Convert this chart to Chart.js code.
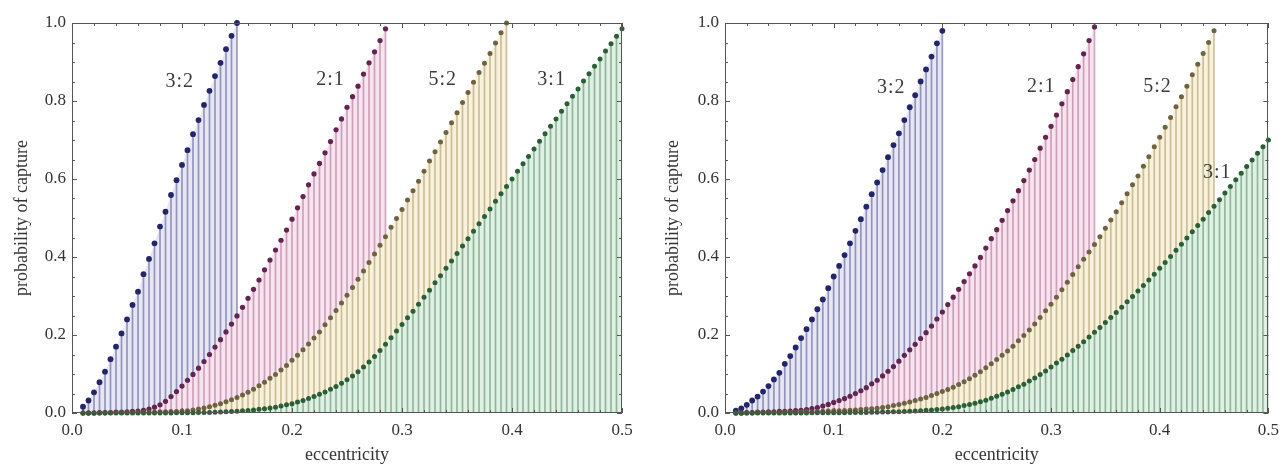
<!DOCTYPE html>
<html><head><meta charset="utf-8">
<script src="https://cdn.jsdelivr.net/npm/chart.js@4.4.1/dist/chart.umd.min.js"></script>
<style>
html,body{margin:0;padding:0;background:#fff;}
#wrap{position:relative;width:1286px;height:464px;overflow:hidden;}
.panel{position:absolute;top:0;width:643px;height:464px;}
</style></head><body>
<div id="wrap">
<div class="panel" style="left:0"><canvas id="c1" width="643" height="464"></canvas></div>
<div class="panel" style="left:643px"><canvas id="c2" width="643" height="464"></canvas></div>
</div>
<script>
// ---------- data ----------
const ecc = [0.010,0.015,0.020,0.025,0.030,0.035,0.040,0.045,0.050,0.055,0.060,0.065,0.070,0.075,0.080,0.085,0.090,0.095,0.100,0.105,0.110,0.115,0.120,0.125,0.130,0.135,0.140,0.145,0.150,0.155,0.160,0.165,0.170,0.175,0.180,0.185,0.190,0.195,0.200,0.205,0.210,0.215,0.220,0.225,0.230,0.235,0.240,0.245,0.250,0.255,0.260,0.265,0.270,0.275,0.280,0.285,0.290,0.295,0.300,0.305,0.310,0.315,0.320,0.325,0.330,0.335,0.340,0.345,0.350,0.355,0.360,0.365,0.370,0.375,0.380,0.385,0.390,0.395,0.400,0.405,0.410,0.415,0.420,0.425,0.430,0.435,0.440,0.445,0.450,0.455,0.460,0.465,0.470,0.475,0.480,0.485,0.490,0.495,0.500];

const resonances = ['3:2','2:1','5:2','3:1'];

// left panel
const left32 = [0.016,0.032,0.053,0.079,0.106,0.138,0.170,0.204,0.240,0.277,0.311,0.356,0.395,0.435,0.478,0.516,0.559,0.597,0.636,0.674,0.715,0.751,0.790,0.826,0.864,0.898,0.933,0.967,1.000];
const left21 = [0.000,0.000,0.000,0.001,0.001,0.001,0.002,0.002,0.003,0.004,0.005,0.007,0.010,0.015,0.021,0.030,0.042,0.055,0.069,0.084,0.099,0.115,0.132,0.150,0.169,0.188,0.208,0.228,0.249,0.271,0.294,0.317,0.341,0.367,0.392,0.418,0.443,0.469,0.497,0.526,0.555,0.585,0.613,0.640,0.667,0.696,0.726,0.754,0.784,0.811,0.838,0.869,0.898,0.926,0.955,0.985];
const left52 = [0.000,0.000,0.000,0.000,0.000,0.001,0.001,0.001,0.001,0.001,0.001,0.002,0.002,0.002,0.003,0.003,0.004,0.004,0.005,0.006,0.008,0.010,0.013,0.016,0.020,0.024,0.029,0.034,0.040,0.046,0.053,0.061,0.070,0.079,0.089,0.099,0.110,0.122,0.135,0.148,0.162,0.177,0.192,0.208,0.226,0.244,0.263,0.282,0.302,0.322,0.343,0.364,0.386,0.408,0.430,0.452,0.476,0.499,0.522,0.546,0.570,0.594,0.620,0.646,0.670,0.695,0.719,0.744,0.770,0.796,0.822,0.848,0.873,0.897,0.922,0.949,0.975,1.000];
const left31 = [0,0,0,0,0,0,0,0,0,0.0001,0.0001,0.0001,0.0002,0.0002,0.0002,0.0003,0.0003,0.0004,0.0005,0.0006,0.0008,0.001,0.0013,0.0016,0.002,0.0025,0.003,0.0037,0.0045,0.0055,0.0065,0.008,0.0095,0.011,0.013,0.015,0.018,0.021,0.024,0.028,0.032,0.037,0.042,0.048,0.054,0.061,0.068,0.076,0.085,0.095,0.106,0.118,0.131,0.145,0.160,0.176,0.193,0.210,0.227,0.244,0.261,0.279,0.297,0.315,0.334,0.352,0.371,0.390,0.409,0.428,0.447,0.466,0.485,0.504,0.523,0.543,0.562,0.581,0.600,0.620,0.639,0.658,0.677,0.697,0.716,0.735,0.754,0.774,0.793,0.812,0.831,0.851,0.870,0.889,0.908,0.928,0.947,0.966,0.985];

// right panel
const right32 = [0.006,0.012,0.021,0.032,0.042,0.055,0.069,0.086,0.103,0.126,0.146,0.168,0.192,0.215,0.240,0.266,0.291,0.320,0.350,0.377,0.405,0.435,0.467,0.497,0.529,0.561,0.591,0.623,0.656,0.687,0.717,0.751,0.784,0.815,0.850,0.881,0.914,0.948,0.980];
const right21 = [0.000,0.000,0.001,0.001,0.002,0.002,0.003,0.003,0.004,0.004,0.005,0.006,0.007,0.009,0.011,0.014,0.018,0.022,0.027,0.032,0.037,0.043,0.050,0.057,0.065,0.075,0.084,0.095,0.107,0.119,0.133,0.148,0.162,0.176,0.191,0.206,0.223,0.241,0.259,0.278,0.297,0.317,0.337,0.357,0.377,0.399,0.423,0.447,0.470,0.494,0.519,0.544,0.570,0.596,0.623,0.650,0.679,0.707,0.735,0.764,0.793,0.824,0.855,0.888,0.921,0.955,0.990];
const right52 = [0.000,0.000,0.000,0.000,0.001,0.001,0.001,0.001,0.001,0.002,0.002,0.002,0.0025,0.003,0.0035,0.004,0.0045,0.005,0.0055,0.006,0.0065,0.007,0.008,0.009,0.010,0.011,0.012,0.014,0.016,0.019,0.022,0.025,0.028,0.032,0.036,0.040,0.045,0.050,0.055,0.060,0.066,0.073,0.080,0.088,0.097,0.106,0.116,0.126,0.137,0.148,0.159,0.171,0.185,0.199,0.213,0.228,0.245,0.262,0.279,0.297,0.316,0.335,0.355,0.375,0.394,0.413,0.432,0.452,0.474,0.495,0.516,0.539,0.562,0.585,0.608,0.633,0.657,0.683,0.707,0.733,0.758,0.785,0.811,0.838,0.867,0.894,0.922,0.950,0.980];
const right31 = [0,0,0,0,0,0.0001,0.0001,0.0001,0.0001,0.0002,0.0002,0.0002,0.0003,0.0003,0.0004,0.0004,0.0005,0.0006,0.0007,0.0008,0.0009,0.001,0.0012,0.0014,0.0016,0.0018,0.0021,0.0024,0.0027,0.003,0.0035,0.004,0.0045,0.005,0.006,0.007,0.008,0.009,0.010,0.012,0.014,0.016,0.019,0.022,0.025,0.029,0.033,0.038,0.043,0.048,0.054,0.060,0.067,0.074,0.082,0.090,0.099,0.108,0.118,0.128,0.138,0.149,0.160,0.171,0.183,0.195,0.207,0.219,0.232,0.245,0.258,0.271,0.285,0.299,0.313,0.327,0.341,0.356,0.371,0.386,0.401,0.417,0.433,0.449,0.465,0.481,0.497,0.514,0.530,0.547,0.564,0.581,0.598,0.615,0.632,0.649,0.666,0.683,0.700];

// axis ticks
const xTickLabels = [0.0,0.1,0.2,0.3,0.4,0.5];
const yTickLabels = [0.0,0.2,0.4,0.6,0.8,1.0];
const xFrameTicks = [0,0.02,0.04,0.06,0.08,0.1,0.12,0.14,0.16,0.18,0.2,0.22,0.24,0.26,0.28,0.3,0.32,0.34,0.36,0.38,0.4,0.42,0.44,0.46,0.48,0.5];
const yFrameTicks = [0,0.05,0.1,0.15,0.2,0.25,0.3,0.35,0.4,0.45,0.5,0.55,0.6,0.65,0.7,0.75,0.8,0.85,0.9,0.95,1.0];

// ---------- styles & layout ----------
const styles = [
  {dot:'#22256a', stem:'rgba(95,95,150,0.62)',  tint:'#e6e6f5', r:2.9},
  {dot:'#632450', stem:'rgba(165,105,140,0.55)', tint:'#f8e3ee', r:2.6},
  {dot:'#6f6240', stem:'rgba(165,145,95,0.55)', tint:'#f8f1db', r:2.5},
  {dot:'#2a5f35', stem:'rgba(85,130,98,0.55)',  tint:'#def1e3', r:2.5}
];
const FONT = '"Liberation Serif", "Times New Roman", serif';

const panels = [
  {id:'c1', series:[left32,left21,left52,left31],
   labelAt:[[0.098,0.849],[0.235,0.854],[0.337,0.854],[0.436,0.854]],
   yWidth:72, yTitlePad:13, padRight:21},
  {id:'c2', series:[right32,right21,right52,right31],
   labelAt:[[0.153,0.833],[0.291,0.836],[0.398,0.836],[0.453,0.615]],
   yWidth:82, yTitlePad:21, padRight:11}
];

function pts(vals){ return vals.map((v,i)=>({x:ecc[i], y:v})); }

function makeDatasets(series){
  const ds = [];
  series.forEach((vals,s)=>{
    const st = styles[s], data = pts(vals);
    ds.push({type:'line', data, fill:'origin', backgroundColor:st.tint, borderColor:'rgba(0,0,0,0)',
             borderWidth:0, pointRadius:0, tension:0, order:50-2*s});
    ds.push({type:'bar', data, backgroundColor:st.stem, borderWidth:0, barThickness:1,
             grouped:false, order:49-2*s});
    ds.push({type:'scatter', data, pointRadius:st.r, pointBackgroundColor:st.dot,
             pointBorderWidth:0, showLine:false, clip:false, order:4-s});
  });
  return ds;
}

const framePlugin = {
  id:'frame',
  afterDatasetsDraw(chart){
    const {ctx, chartArea:a, scales:{x,y}} = chart;
    ctx.save();
    ctx.strokeStyle = '#555'; ctx.lineWidth = 1;
    ctx.beginPath();
    xFrameTicks.forEach(t=>{
      const px = Math.round(x.getPixelForValue(t))+0.5;
      const major = Math.abs(t*10 - Math.round(t*10)) < 1e-6;
      const len = major ? 5 : 3;
      ctx.moveTo(px, a.bottom); ctx.lineTo(px, a.bottom-len);
      ctx.moveTo(px, a.top); ctx.lineTo(px, a.top+len);
    });
    yFrameTicks.forEach(t=>{
      const py = Math.round(y.getPixelForValue(t))+0.5;
      const major = Math.abs(t*5 - Math.round(t*5)) < 1e-6;
      const len = major ? 5 : 3;
      ctx.moveTo(a.left, py); ctx.lineTo(a.left+len, py);
      ctx.moveTo(a.right, py); ctx.lineTo(a.right-len, py);
    });
    ctx.stroke();
    ctx.strokeRect(Math.round(a.left)+0.5, Math.round(a.top)+0.5,
                   Math.round(a.right-a.left)-1, Math.round(a.bottom-a.top)-1);
    ctx.restore();
  }
};

const labelPlugin = {
  id:'reslabels',
  afterDraw(chart, args, opts){
    const {ctx, scales:{x,y}} = chart;
    ctx.save();
    ctx.font = '20px ' + FONT;
    ctx.fillStyle = '#3a3a3a';
    ctx.textAlign = 'center'; ctx.textBaseline = 'middle';
    try { ctx.letterSpacing = '1px'; } catch(e) {}
    opts.at.forEach((p,i)=>{
      ctx.fillText(resonances[i], x.getPixelForValue(p[0]), y.getPixelForValue(p[1]));
    });
    ctx.restore();
  }
};

panels.forEach(p=>{
  new Chart(document.getElementById(p.id), {
    type:'scatter',
    data:{datasets:makeDatasets(p.series)},
    options:{
      responsive:false, animation:false, events:[],
      layout:{padding:{left:0, right:p.padRight, top:23, bottom:0}},
      plugins:{legend:{display:false}, tooltip:{enabled:false}, reslabels:{at:p.labelAt}},
      scales:{
        x:{type:'linear', min:0, max:0.5, offset:false,
           grid:{display:false, drawTicks:false}, border:{display:false},
           ticks:{stepSize:0.1, autoSkip:false, maxRotation:0, padding:7, color:'#333',
                  font:{family:FONT, size:17},
                  callback:v=>{ const m = xTickLabels.find(t=>Math.abs(t-v)<1e-6); return m===undefined? '' : m.toFixed(1); }},
           title:{display:true, text:'eccentricity', color:'#333', padding:{top:0,bottom:0},
                  font:{family:FONT, size:18, lineHeight:1}},
           afterFit:s=>{ s.height = 51; }},
        y:{type:'linear', min:0, max:1, offset:false,
           grid:{display:false, drawTicks:false}, border:{display:false},
           ticks:{stepSize:0.2, autoSkip:false, padding:6, color:'#333',
                  font:{family:FONT, size:17},
                  callback:v=>{ const m = yTickLabels.find(t=>Math.abs(t-v)<1e-6); return m===undefined? '' : m.toFixed(1); }},
           title:{display:true, text:'probability of capture', color:'#333', padding:{top:p.yTitlePad,bottom:0},
                  font:{family:FONT, size:18, lineHeight:1}},
           afterFit:s=>{ s.width = p.yWidth; }}
      }
    },
    plugins:[framePlugin, labelPlugin]
  });
});
</script>
</body></html>
